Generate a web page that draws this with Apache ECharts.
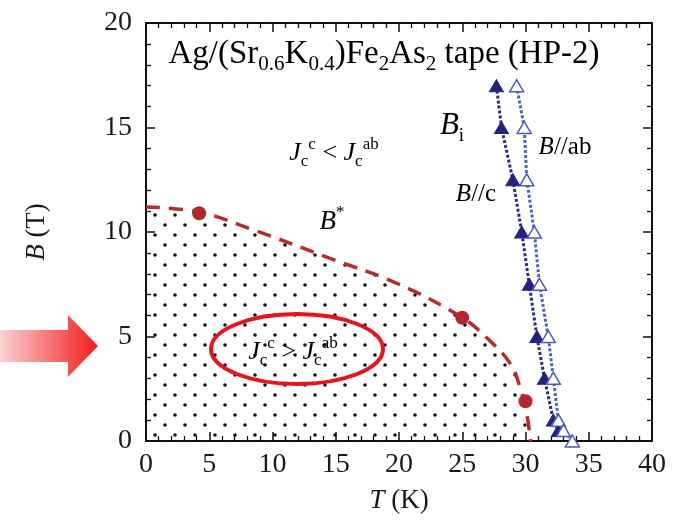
<!DOCTYPE html>
<html><head><meta charset="utf-8">
<script src="https://cdn.jsdelivr.net/npm/echarts@6/dist/echarts.min.js"></script>
<style>html,body{margin:0;padding:0;background:#fff}#c{width:673px;height:520px}</style>
</head><body><div id="c"></div>
<script>
// ---- data ----
const starT = [4.2, 25, 30];
const starB = [10.9, 5.9, 1.9];
const curveT = [0, 4.2, 8.5, 14.5, 20, 25, 27, 28.8, 29.6, 30.1, 30.4];
const curveB = [11.2, 10.95, 10.1, 8.75, 7.5, 5.9, 4.9, 3.7, 2.5, 1.3, 0];
const biC_T = [27.7, 28.1, 29.0, 29.7, 30.3, 30.9, 31.5, 32.2, 32.6];
const biC_B = [17, 15, 12.5, 10, 7.5, 5, 3, 1, 0.5];
const biAB_T = [29.3, 29.9, 30.1, 30.7, 31.1, 31.8, 32.2, 32.6, 33.0, 33.7];
const biAB_B = [17, 15, 12.5, 10, 7.5, 5, 3, 1, 0.5, 0];
const xTicks = [0, 40, 5];
const yTicks = [0, 20, 5];

const zip = (a, b) => a.map((v, i) => [v, b[i]]);
const SERIF = 'Liberation Serif';

// dot pattern
const pc = document.createElement('canvas');
pc.width = 20; pc.height = 20;
const pctx = pc.getContext('2d');
pctx.fillStyle = '#151515';
[[5, 5], [15, 15]].forEach(p => { pctx.beginPath(); pctx.arc(p[0], p[1], 1.8, 0, Math.PI * 2); pctx.fill(); });

const chart = echarts.init(document.getElementById('c'), null, {renderer: 'canvas'});

function axisCommon(show, margin) {
  return {
    axisLine: {show: true, onZero: false, lineStyle: {color: '#111', width: 2}},
    axisTick: {show: true, inside: true, length: 9, lineStyle: {color: '#111', width: 1.5}},
    minorTick: {show: true, splitNumber: 5, length: 5, lineStyle: {color: '#111', width: 1.3}},
    splitLine: {show: false},
    axisLabel: {show: show, fontFamily: SERIF, fontSize: 28, color: '#1a1a1a', margin: margin || 8}
  };
}

const sub = (fs, col) => ({fontSize: fs, fontFamily: SERIF, color: col, lineHeight: fs, verticalAlign: 'bottom'});
const sup = (fs, col) => ({fontSize: fs, fontFamily: SERIF, color: col, lineHeight: fs, verticalAlign: 'top'});
const main = (fs, col, ital, lh) => ({fontSize: fs, fontFamily: SERIF, color: col, lineHeight: lh, verticalAlign: 'middle', fontStyle: ital ? 'italic' : 'normal'});

function txt(x, y, text, rich) {
  return {type: 'text', x: x, y: y, z: 100,
    style: {text: text, rich: rich, align: 'center', verticalAlign: 'middle', textAlign: 'center', textVerticalAlign: 'middle'}};
}
const nameRich = {i: {fontFamily: SERIF, fontSize: 27, fontStyle: 'italic', color: '#1a1a1a'}, n: {fontFamily: SERIF, fontSize: 27, color: '#1a1a1a'}};

const option = {
  animation: false,
  backgroundColor: '#fff',
  grid: {left: 146, right: 21, top: 23, bottom: 79, containLabel: false, outerBoundsMode: 'none'},
  xAxis: [
    Object.assign({type: 'value', min: xTicks[0], max: xTicks[1], interval: xTicks[2], position: 'bottom',
      name: '{i|T}{n|\u00a0(K)}', nameLocation: 'middle', nameGap: 46, nameTextStyle: {rich: nameRich}
    }, axisCommon(true, 10)),
    Object.assign({type: 'value', min: xTicks[0], max: xTicks[1], interval: xTicks[2], position: 'top'}, axisCommon(false))
  ],
  yAxis: [
    Object.assign({type: 'value', min: yTicks[0], max: yTicks[1], interval: yTicks[2], position: 'left',
      name: '{i|B}{n|\u00a0(T)}', nameLocation: 'middle', nameGap: 96, nameRotate: 90, nameTextStyle: {rich: nameRich}
    }, axisCommon(true, 14)),
    Object.assign({type: 'value', min: yTicks[0], max: yTicks[1], interval: yTicks[2], position: 'right'}, axisCommon(false))
  ],
  series: [
    {type: 'line', data: zip(curveT, curveB), smooth: 0.4, symbol: 'none', z: 2,
      lineStyle: {color: '#b82a2e', width: 3.5, type: [14, 9]},
      areaStyle: {color: {image: pc, repeat: 'repeat'}, opacity: 1}},
    {type: 'scatter', data: zip(starT, starB), symbol: 'circle', symbolSize: 14, z: 5,
      itemStyle: {color: '#b5252a', opacity: 1}},
    {type: 'line', data: zip(biAB_T, biAB_B), xAxisIndex: 1, yAxisIndex: 1, symbol: 'triangle', symbolSize: [14, 12], z: 4,
      lineStyle: {color: '#5262bd', width: 3, type: [3, 2]},
      itemStyle: {color: '#ffffff', borderColor: '#4c5bb9', borderWidth: 1.5}},
    {type: 'line', data: zip(biC_T, biC_B), symbol: 'triangle', symbolSize: [14, 12], z: 3,
      lineStyle: {color: '#2b2b8c', width: 3, type: [3, 2]},
      itemStyle: {color: '#24247f', borderColor: '#24247f', borderWidth: 1}}
  ],
  graphic: [
    {type: 'polygon', z: 100,
      shape: {points: [[0, 330], [68, 330], [68, 315], [98, 346], [68, 377], [68, 362], [0, 362]]},
      style: {fill: new echarts.graphic.LinearGradient(0, 0, 1, 0, [{offset: 0, color: '#fbd2d2'}, {offset: 1, color: '#f41a1a'}])}},
    {type: 'ellipse', z: 100, shape: {cx: 297, cy: 349, rx: 86, ry: 35},
      style: {fill: 'none', stroke: '#e8141b', lineWidth: 4}},
    txt(384, 54, '{n|Ag/(Sr}{s|0.6}{n|K}{s|0.4}{n|)Fe}{s|2}{n|As}{s|2}{n| tape (HP-2)}',
      {n: main(33, '#1a1a1a', false, 42), s: sub(21, '#1a1a1a')}),
    txt(334, 153, '{j|J}{s|c}{p|c}{n| < }{j|J}{s|c}{p|ab}',
      {j: main(26, '#1a1a1a', true, 34), n: main(26, '#1a1a1a', false, 34), s: sub(17, '#1a1a1a'), p: sup(17, '#1a1a1a')}),
    txt(293, 352, '{j|J}{s|c}{p|c}{n| > }{j|J}{s|c}{p|ab}',
      {j: main(26, '#1a1a1a', true, 34), n: main(26, '#1a1a1a', false, 34), s: sub(17, '#1a1a1a'), p: sup(17, '#1a1a1a')}),
    txt(332, 222, '{b|B}{p|*}',
      {b: main(27, '#b82a2e', true, 36), p: sup(17, '#b82a2e')}),
    txt(452, 126, '{b|B}{s|i}',
      {b: main(31, '#2c2c8c', true, 40), s: sub(19, '#2c2c8c')}),
    txt(565, 147, '{b|B}{n|//ab}',
      {b: main(25, '#1a1a1a', true, 30), n: main(25, '#1a1a1a', false, 30)}),
    txt(476, 194, '{b|B}{n|//c}',
      {b: main(25, '#1a1a1a', true, 30), n: main(25, '#1a1a1a', false, 30)})
  ]
};
chart.setOption(option);
</script>
</body></html>
